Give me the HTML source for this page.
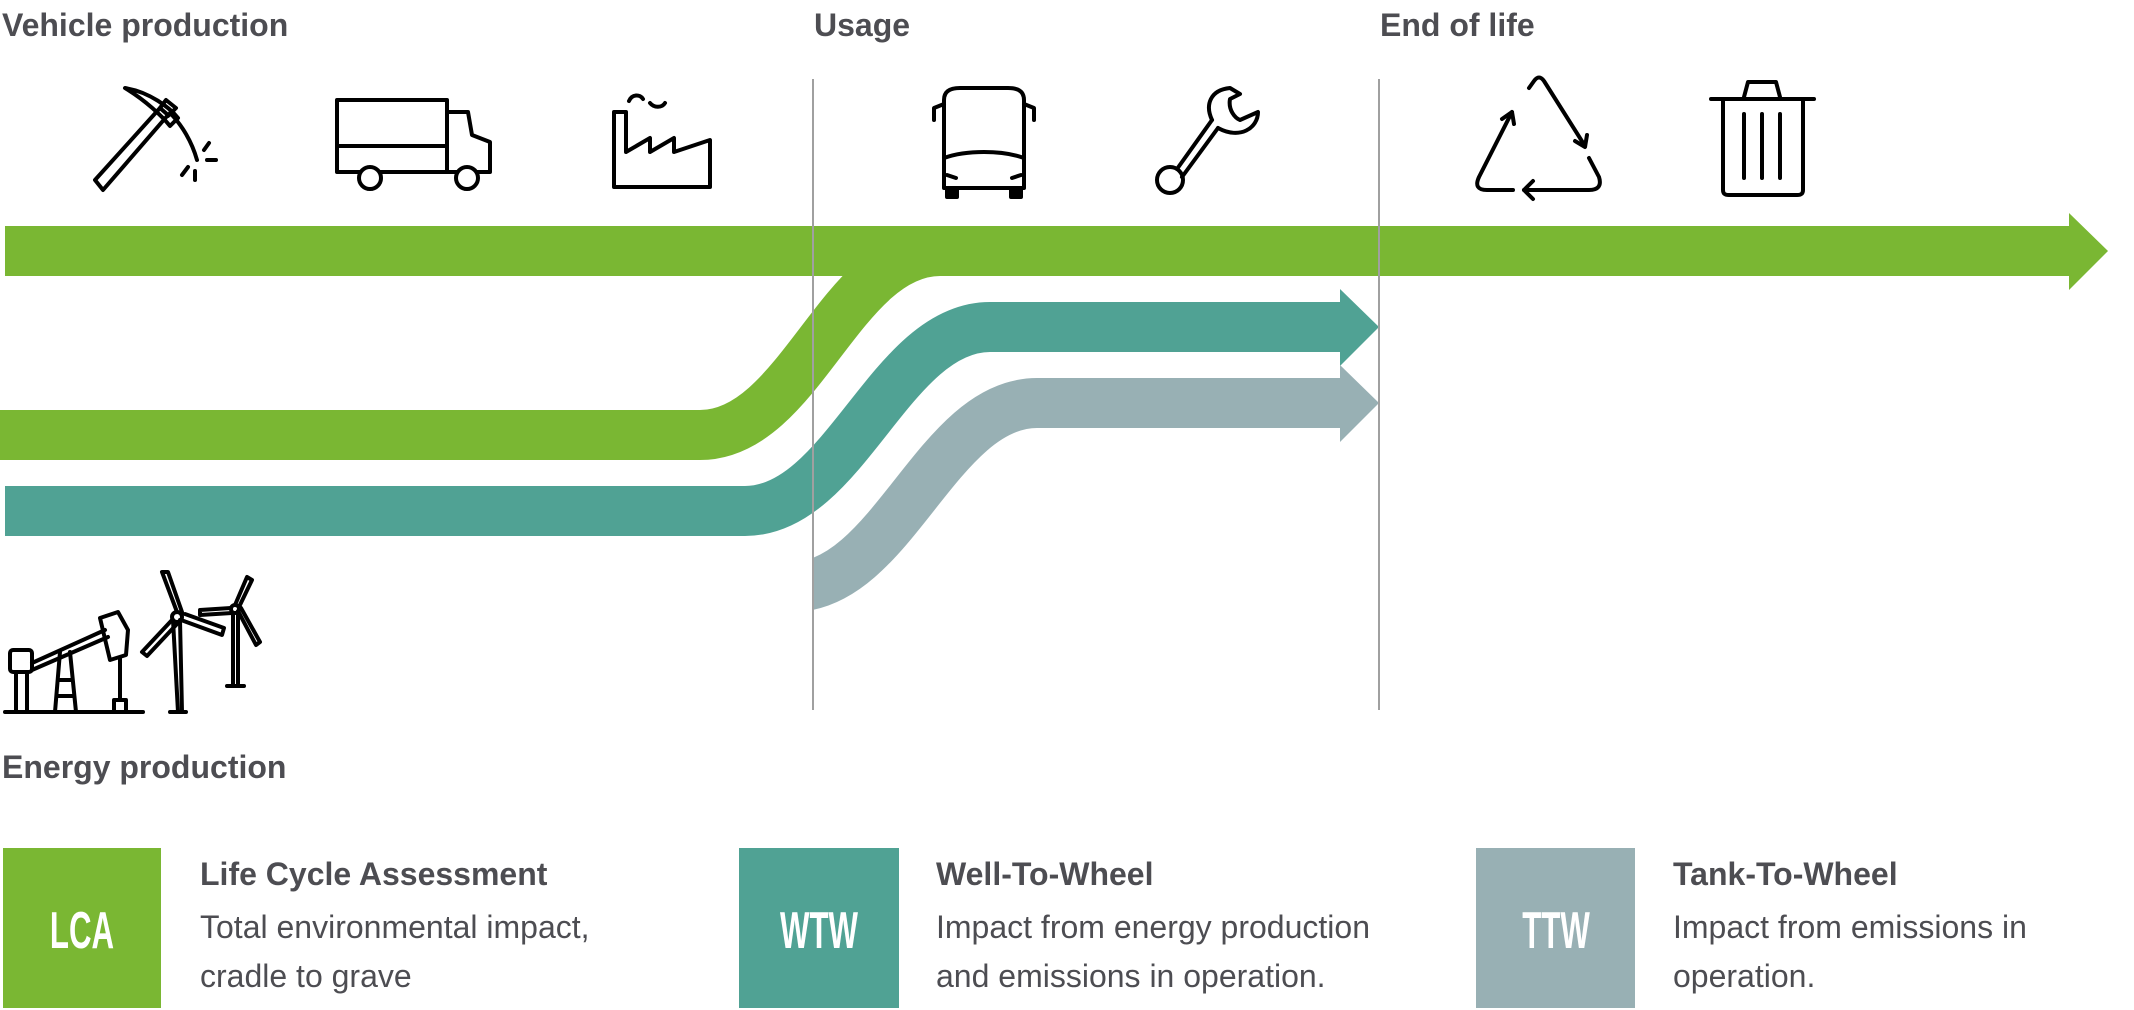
<!DOCTYPE html>
<html><head><meta charset="utf-8"><style>
html,body{margin:0;padding:0;background:#fff;}
body{width:2134px;height:1010px;overflow:hidden;}
svg{display:block;}
.h{font-family:"Liberation Sans",sans-serif;font-weight:bold;font-size:32px;fill:#4d4d52;}
.b{font-family:"Liberation Sans",sans-serif;font-size:32px;fill:#4d4d52;}
.lab{font-family:"Liberation Sans Narrow","Liberation Sans",sans-serif;font-weight:bold;font-size:52px;fill:#fff;}
</style></head><body>
<svg width="2134" height="1010" viewBox="0 0 2134 1010" xmlns="http://www.w3.org/2000/svg">
<defs><clipPath id="cg"><rect x="813" y="0" width="1400" height="1010"/></clipPath></defs>
<text class="h" x="2" y="36">Vehicle production</text>
<text class="h" x="814" y="36">Usage</text>
<text class="h" x="1380" y="36">End of life</text>
<text class="h" x="2" y="778">Energy production</text>

<!-- bands -->
<path d="M0,435 H700 C800,435 840,251 940,251 H1000" fill="none" stroke="#7ab733" stroke-width="50"/>
<rect x="5" y="226" width="2066" height="50" fill="#7ab733"/>
<polygon points="2069,213 2108,251 2069,290" fill="#7ab733"/>
<path d="M5,511 H745 C845,511 890,327 990,327 H1341" fill="none" stroke="#50a294" stroke-width="50"/>
<polygon points="1340,289 1379,327 1340,366" fill="#50a294"/>
<path clip-path="url(#cg)" d="M700,587 H792 C892,587 937,403 1037,403 H1341" fill="none" stroke="#98b0b4" stroke-width="50"/>
<polygon points="1340,365 1379,403 1340,442" fill="#98b0b4"/>

<line x1="813" y1="79" x2="813" y2="710" stroke="#a0a0a0" stroke-width="2"/>
<line x1="1379" y1="79" x2="1379" y2="710" stroke="#a0a0a0" stroke-width="2"/>

<g fill="none" stroke="#000" stroke-width="4" stroke-linejoin="round" stroke-linecap="round">
<!-- pickaxe -->
<path d="M95,180 L160,108 L168,115 L103,190 Z"/>
<path d="M125,88 C150,92 170,108 178,118 L170,126 C162,116 145,100 125,88 Z"/>
<path d="M170,113 C182,125 192,142 197,160"/>
<path d="M160,108 L166,100 L176,108 L168,116"/>
<path d="M209,143 L204,150 M207,160 H216 M195,171 V180 M188,167 L182,175"/>
<!-- truck -->
<rect x="337" y="100" width="110" height="72"/>
<line x1="337" y1="146" x2="447" y2="146"/>
<path d="M447,112 H468 L472,135 L490,142 V172 H447"/>
<circle cx="370" cy="178" r="11" fill="#fff"/>
<circle cx="467" cy="178" r="11" fill="#fff"/>
<!-- factory -->
<path d="M614,187 V112 H626 V152 L650,138 V152 L674,138 V152 L710,140 V187 Z"/>
<path d="M629,101 C632,94 640,94 643,99 M650,103 C654,108 662,108 665,103"/>
<!-- bus -->
<path d="M944,100 C944,90 952,88 960,88 H1008 C1016,88 1024,90 1024,100 V188 H944 Z"/>
<path d="M944,158 C966,150 1002,150 1024,158"/>
<path d="M944,104 L934,108 V120 M1024,104 L1034,108 V120"/>
<rect x="947" y="188" width="10" height="9" fill="#000"/>
<rect x="1011" y="188" width="10" height="9" fill="#000"/>
<path d="M947,175 L956,178 M1021,175 L1012,178"/>
<!-- wrench -->
<circle cx="1170" cy="180" r="13"/>
<path d="M1177,169 L1212,120 M1182,177 L1218,128"/>
<path d="M1212,120 C1205,105 1210,90 1230,88 L1240,94 L1230,99 C1228,110 1235,118 1240,120 L1258,112 C1258,128 1240,140 1218,128"/>
<!-- recycle -->
<g transform="translate(-13 0)">
<path d="M1542,88 L1547,81 Q1552,74 1557,81 L1598,146"/>
<path d="M1588,141 L1598,147 L1600,135"/>
<path d="M1602,158 L1612,177 Q1616,190 1602,190 L1537,190"/>
<path d="M1546,181 L1537,190 L1546,199"/>
<path d="M1526,190 L1500,190 Q1486,190 1492,177 L1525,112"/>
<path d="M1515,119 L1525,112 L1527,124"/>
</g>
<!-- trash -->
<line x1="1711" y1="99" x2="1814" y2="99"/>
<path d="M1744,97 L1748,82 H1776 L1780,97"/>
<path d="M1723,101 V190 C1723,194 1725,195 1729,195 H1797 C1801,195 1803,194 1803,190 V101"/>
<path d="M1744,114 V178 M1762,114 V178 M1780,114 V178"/>
<!-- pump jack -->
<line x1="5" y1="712" x2="143" y2="712"/>
<rect x="10" y="650" width="22" height="22" rx="3"/>
<path d="M16,672 V712 M27,672 V712"/>
<path d="M32,663 L105,630 M32,670 L108,637"/>
<path d="M100,618 L118,612 L128,630 L126,655 L110,660 Z"/>
<path d="M120,658 V700 M114,700 H126 V712 H114 Z"/>
<path d="M60,652 L55,712 M70,652 L76,712 M58,680 H72 M57,696 H74"/>
<!-- turbines -->
<path d="M173,620 L178,712 M180,620 L182,712 M170,712 H186"/>
<circle cx="177" cy="617" r="5"/>
<path d="M177,612 L162,572 L168,572 L182,612"/>
<path d="M181,620 L222,635 L224,628 L185,614"/>
<path d="M172,620 L142,652 L147,656 L177,624"/>
<path d="M233,613 V686 M238,613 V686 M227,686 H244"/>
<circle cx="235" cy="609" r="4"/>
<path d="M235,605 L247,577 L252,580 L239,607"/>
<path d="M238,611 L256,645 L260,642 L241,608"/>
<path d="M231,608 L200,610 L200,615 L232,613"/>
</g>

<!-- legend -->
<rect x="3" y="848" width="158" height="160" fill="#7ab733"/>
<rect x="739" y="848" width="160" height="160" fill="#50a294"/>
<rect x="1476" y="848" width="159" height="160" fill="#98b0b4"/>
<text class="lab" x="82" y="948" text-anchor="middle" transform="translate(82 0) scale(0.6 1) translate(-82 0)">LCA</text>
<text class="lab" x="819" y="948" text-anchor="middle" transform="translate(819 0) scale(0.6 1) translate(-819 0)">WTW</text>
<text class="lab" x="1556" y="948" text-anchor="middle" transform="translate(1556 0) scale(0.6 1) translate(-1556 0)">TTW</text>

<text class="h" x="200" y="885">Life Cycle Assessment</text>
<text class="b" x="200" y="938">Total environmental impact,</text>
<text class="b" x="200" y="987">cradle to grave</text>
<text class="h" x="936" y="885">Well-To-Wheel</text>
<text class="b" x="936" y="938">Impact from energy production</text>
<text class="b" x="936" y="987">and emissions in operation.</text>
<text class="h" x="1673" y="885">Tank-To-Wheel</text>
<text class="b" x="1673" y="938">Impact from emissions in</text>
<text class="b" x="1673" y="987">operation.</text>
</svg>
</body></html>
